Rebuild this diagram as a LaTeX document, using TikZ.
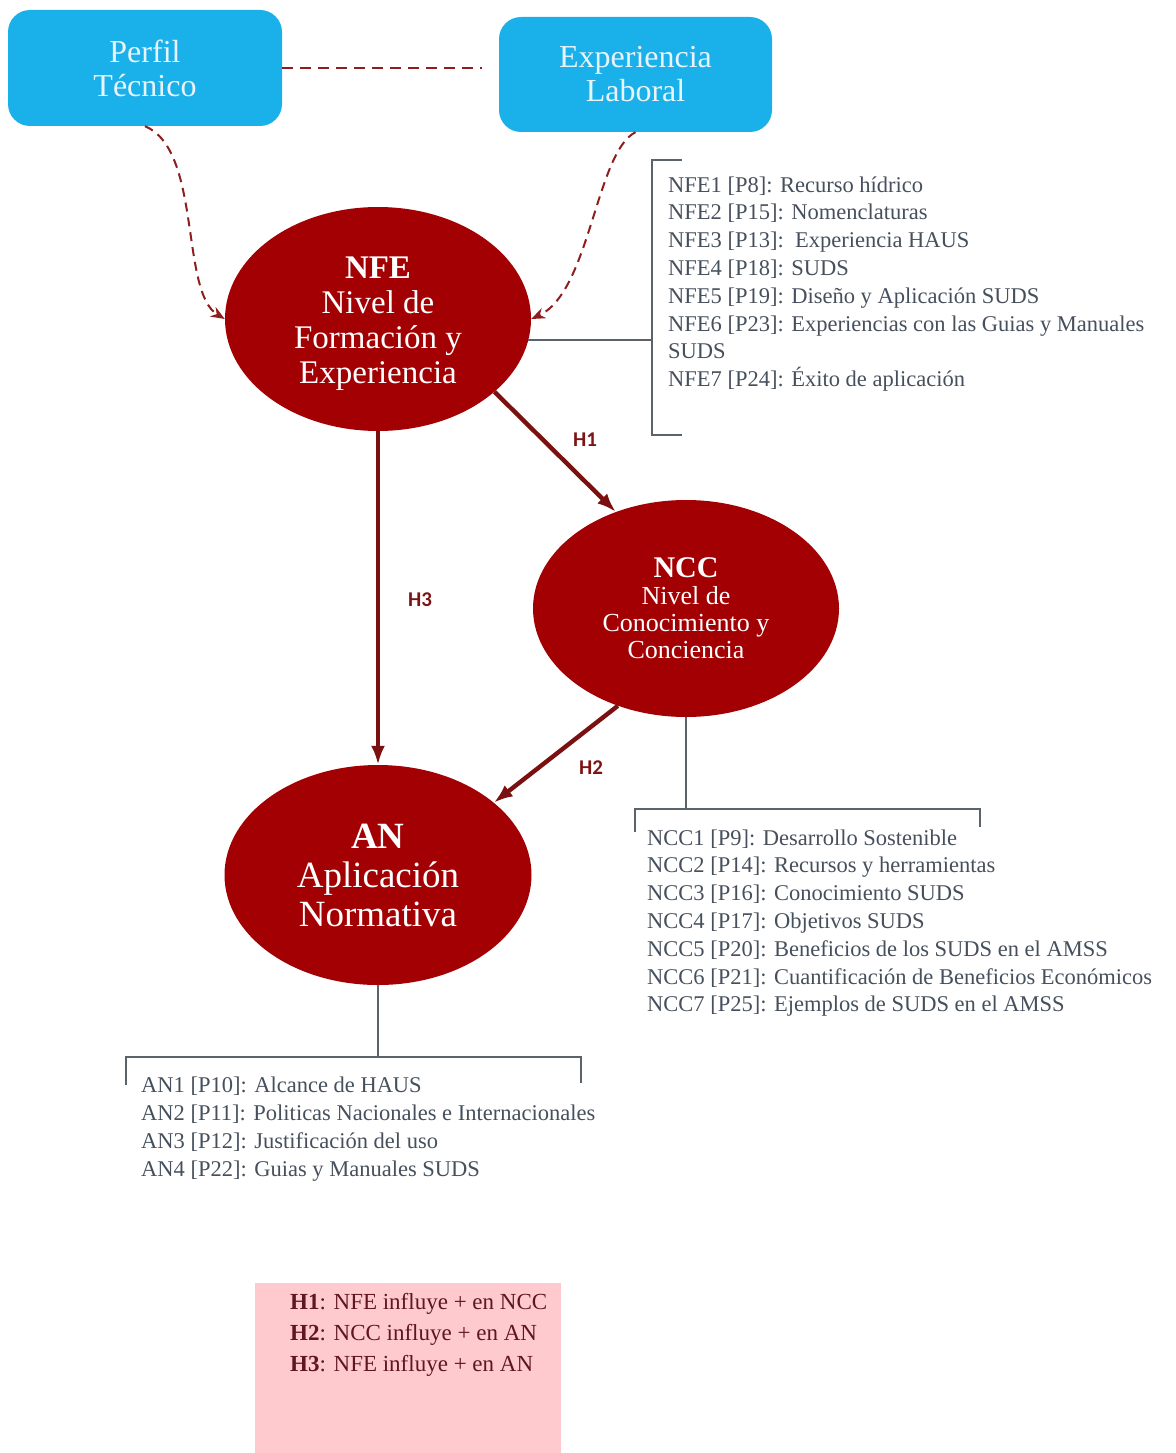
\documentclass[tikz,border=0pt]{standalone}
\usepackage{fontspec}
\setmainfont{Liberation Serif}
\newfontfamily\calib{Carlito}
\usetikzlibrary{shapes.geometric,arrows.meta}
\definecolor{boxcyan}{RGB}{26,176,234}
\definecolor{boxtxt}{RGB}{232,244,252}
\definecolor{ellred}{RGB}{163,0,4}
\definecolor{arrred}{RGB}{122,16,16}
\definecolor{dashred}{RGB}{140,30,30}
\definecolor{hlab}{RGB}{125,20,20}
\definecolor{brkgray}{RGB}{90,98,106}
\definecolor{listtxt}{RGB}{70,80,92}
\definecolor{legfill}{RGB}{255,202,205}
\definecolor{legtxt}{RGB}{95,22,28}
\tikzset{
  topbox/.style={draw=none, fill=boxcyan, rounded corners=22pt, text=boxtxt,
    align=center, font=\fontsize{32}{34}\selectfont, inner sep=0pt},
  construct/.style={ellipse, fill=ellred, draw=none, text=white, align=center, inner sep=0pt},
  hyparrow/.style={draw=arrred, line width=4.4pt, -{Latex[length=19pt,width=14pt]}},
  dashlink/.style={draw=dashred, line width=2.4pt, dash pattern=on 11pt off 7pt},
  dasharrow/.style={draw=dashred, line width=2pt, dash pattern=on 9pt off 6pt, -{Stealth[length=14pt,width=11pt]}},
  hlabel/.style={text=hlab, font=\calib\bfseries\fontsize{21}{21}\selectfont, inner sep=0pt},
  brk/.style={draw=brkgray, line width=2.2pt},
  itemtxt/.style={anchor=base west, text=listtxt, font=\fontsize{22.5}{27}\selectfont, inner sep=0pt},
  legline/.style={anchor=base west, text=legtxt, font=\fontsize{23}{27}\selectfont, inner sep=0pt}
}
\begin{document}
\begin{tikzpicture}[x=1pt,y=-1pt]
\useasboundingbox (0,0) rectangle (1175,1453);

% top boxes
\node[topbox, minimum width=274pt, minimum height=116pt] (perfil) at (145,68) {Perfil\\Técnico};
\node[topbox, minimum width=273pt, minimum height=115pt] (exper) at (635.5,74.5) {Experiencia\\Laboral};
\coordinate (dashend) at (482,68);
\draw[dashlink] (perfil.east) -- (dashend);

% constructs
\node[construct, minimum width=306pt, minimum height=224pt, font=\fontsize{33}{35}\selectfont] (nfe) at (378,319)
  {\rule{0pt}{31pt}\textbf{NFE}\\Nivel de\\Formación y\\Experiencia};
\node[construct, minimum width=306pt, minimum height=217pt, font=\fontsize{26}{27}\selectfont] (ncc) at (686,608.5)
  {{\fontsize{30}{27}\selectfont\textbf{NCC}}\\Nivel de\\Conocimiento y\\Conciencia};
\node[construct, minimum width=307pt, minimum height=220pt, font=\fontsize{37}{39}\selectfont] (an) at (378,875)
  {\textbf{AN}\\Aplicación\\Normativa};

% dashed curves
\draw[dasharrow] (perfil.south) .. controls (202,150) and (180,292) .. (nfe.west);
\draw[dasharrow] (exper.south) .. controls (596,152) and (590,292) .. (nfe.east);

% hypotheses arrows
\draw[hyparrow] (nfe.-32) -- (ncc.126);
\draw[hyparrow] (nfe.south) -- (an.north);
\draw[hyparrow] (ncc.-125) -- (an.32);
\node[hlabel] (h1) at (585,440) {H1};
\node[hlabel] (h3) at (420,600) {H3};
\node[hlabel] (h2) at (591,768) {H2};

% NFE bracket and list
\coordinate (nfeb) at (652,341);
\draw[brk] (nfe.-8) -- (nfe.-8 -| nfeb);
\draw[brk] (682,160) -- (652,160) -- (652,435) -- (682,435);
\foreach \t [count=\i] in {{NFE1 [P8]: Recurso hídrico},{NFE2 [P15]: Nomenclaturas},{NFE3 [P13]:\ \ Experiencia HAUS},{NFE4 [P18]: SUDS},{NFE5 [P19]: Diseño y Aplicación SUDS},{NFE6 [P23]: Experiencias con las Guias y Manuales},{SUDS},{NFE7 [P24]: Éxito de aplicación}}
  \node[itemtxt] (nfel\i) at (668,{192+(\i-1)*27.8}) {\t};

% NCC bracket and list
\coordinate (nccb) at (686,809);
\draw[brk] (ncc.south) -- (ncc.south |- nccb);
\draw[brk] (635,832) -- (635,809) -- (980,809) -- (980,827);
\foreach \t [count=\i] in {{NCC1 [P9]: Desarrollo Sostenible},{NCC2 [P14]: Recursos y herramientas},{NCC3 [P16]: Conocimiento SUDS},{NCC4 [P17]: Objetivos SUDS},{NCC5 [P20]: Beneficios de los SUDS en el AMSS},{NCC6 [P21]: Cuantificación de Beneficios Económicos},{NCC7 [P25]: Ejemplos de SUDS en el AMSS}}
  \node[itemtxt] (nccl\i) at (647,{845+(\i-1)*27.8}) {\t};

% AN bracket and list
\coordinate (anb) at (378,1057);
\draw[brk] (an.south) -- (an.south |- anb);
\draw[brk] (126,1085) -- (126,1057) -- (581,1057) -- (581,1083);
\foreach \t [count=\i] in {{AN1 [P10]: Alcance de HAUS},{AN2 [P11]: Politicas Nacionales e Internacionales},{AN3 [P12]: Justificación del uso},{AN4 [P22]: Guias y Manuales SUDS}}
  \node[itemtxt] (anl\i) at (141,{1092+(\i-1)*28}) {\t};

% legend
\node[fill=legfill, draw=none, minimum width=306pt, minimum height=171pt, inner sep=0pt, anchor=north west] (legend) at (255,1283) {};
\node[legline] (leg1) at (290,1309) {\textbf{H1}: NFE influye + en NCC};
\node[legline] (leg2) at (290,1340) {\textbf{H2}: NCC influye + en AN};
\node[legline] (leg3) at (290,1371) {\textbf{H3}: NFE influye + en AN};
\end{tikzpicture}
\end{document}
